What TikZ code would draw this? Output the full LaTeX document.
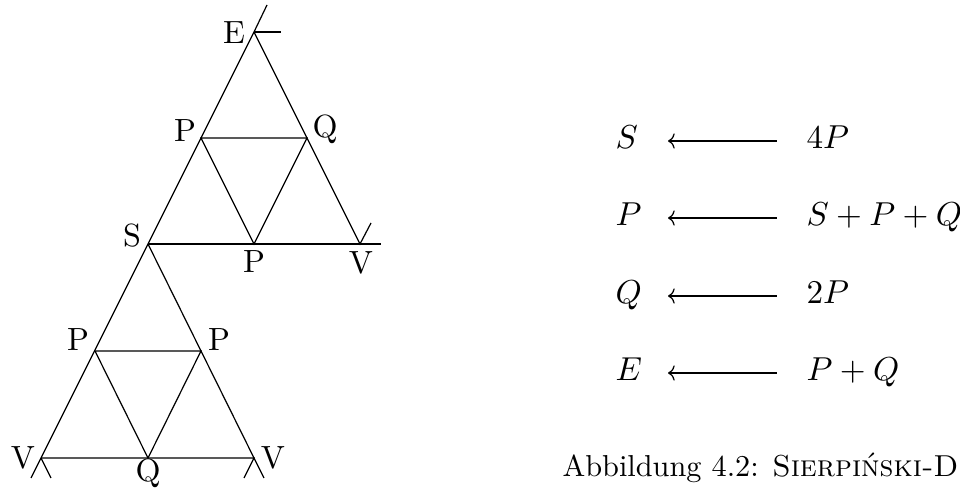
\documentclass[tikz,border=0pt]{standalone}
\usetikzlibrary{arrows.meta}
\tikzset{
  edge/.style={line width=0.4pt, black},
  lbl/.style={inner sep=0pt, font=\fontsize{10.6}{12}\selectfont\rmfamily},
  mth/.style={inner sep=0pt, anchor=base west, font=\fontsize{10.6}{12}\selectfont},
  capt/.style={inner sep=0pt, anchor=base west},
  rule/.style={line width=0.4pt, {Computer Modern Rightarrow[length=2.2pt,width=5pt]}-}
}
\begin{document}
\begin{tikzpicture}[x=0.33pt,y=-0.33pt]
\useasboundingbox (0,0) rectangle (960,494);
% vertices
\coordinate (E) at (254,32);
\coordinate (S) at (148,244);
\coordinate (V1) at (360,244);
\coordinate (P1) at (201,138);
\coordinate (Q1) at (307,138);
\coordinate (P2) at (254,244);
\coordinate (VL) at (41,458);
\coordinate (VR) at (254,458);
\coordinate (P3) at (95,351);
\coordinate (P4) at (201,351);
\coordinate (Q2) at (148,458);
% tick ends
\coordinate (Et1) at (267,5);
\coordinate (Et2) at (281,32);
\coordinate (V1t1) at (381,244);
\coordinate (V1t2) at (371,223);
\coordinate (VLt1) at (31,478);
\coordinate (VLt2) at (51,478);
\coordinate (VRt1) at (264,478);
\coordinate (VRt2) at (244,478);
% outer lines
\draw[edge] (Et1) -- (E) -- (S) -- (VL) -- (VLt1);
\draw[edge] (E) -- (Et2);
\draw[edge] (E) -- (V1) -- (V1t2);
\draw[edge] (S) -- (V1) -- (V1t1);
\draw[edge] (S) -- (VR) -- (VRt1);
\draw[edge] (VL) -- (VR) -- (VRt2);
\draw[edge] (VL) -- (VLt2);
% inner triangles
\draw[edge] (P1) -- (Q1) -- (P2) -- cycle;
\draw[edge] (P3) -- (P4) -- (Q2) -- cycle;
% labels
\node[lbl] (lE) at (234,33) {E};
\node[lbl] (lP1) at (185,131) {P};
\node[lbl] (lQ1) at (325,129) {Q};
\node[lbl] (lS) at (132,236) {S};
\node[lbl] (lP2) at (254,262) {P};
\node[lbl] (lV1) at (361,263) {V};
\node[lbl] (lP3) at (78,340) {P};
\node[lbl] (lP4) at (219,340) {P};
\node[lbl] (lVL) at (23,458) {V};
\node[lbl] (lVR) at (273,458) {V};
\node[lbl] (lQ2) at (148,473) {Q};
% rules
\node[mth] (r1l) at (615,149) {$S$};
\node[mth] (r2l) at (615,226) {$P$};
\node[mth] (r3l) at (615,304) {$Q$};
\node[mth] (r4l) at (615,381) {$E$};
\node[mth] (r1r) at (806,149) {$4P$};
\node[mth] (r2r) at (806,226) {$S+P+Q$};
\node[mth] (r3r) at (806,304) {$2P$};
\node[mth] (r4r) at (806,381) {$P+Q$};
\coordinate (a1s) at (668,141); \coordinate (a1e) at (777,141);
\coordinate (a2s) at (668,218); \coordinate (a2e) at (777,218);
\coordinate (a3s) at (668,296); \coordinate (a3e) at (777,296);
\coordinate (a4s) at (668,373); \coordinate (a4e) at (777,373);
\draw[rule] (a1s) -- (a1e);
\draw[rule] (a2s) -- (a2e);
\draw[rule] (a3s) -- (a3e);
\draw[rule] (a4s) -- (a4e);
% caption
\node[capt] (cap) at (562,477) {Abbildung 4.2: \textsc{Sierpiński-D}};
\end{tikzpicture}
\end{document}
